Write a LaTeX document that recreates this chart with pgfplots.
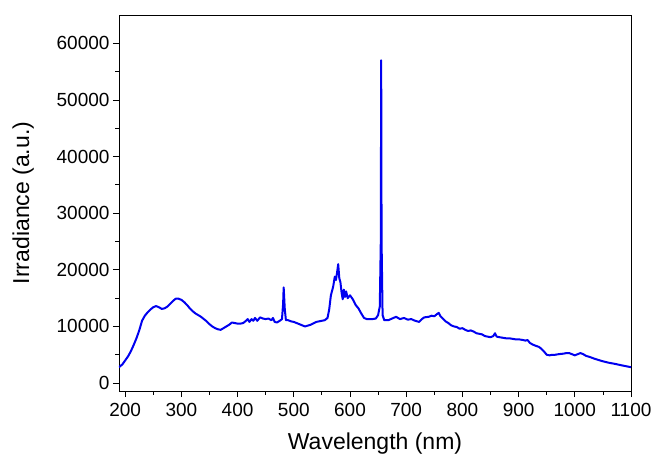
\documentclass[border=0pt]{standalone}
\usepackage{pgfplots}
\pgfplotsset{compat=1.18}
\usepackage{fontspec}
\setmainfont{Liberation Sans}
\begin{document}
\begin{tikzpicture}[x=1pt,y=1pt]
\useasboundingbox (-119,-76) rectangle (550,391);
\begin{axis}[
  at={(0,0)}, anchor=south west,
  scale only axis, width=512pt, height=376pt,
  xmin=189, xmax=1100, ymin=-1400, ymax=65000,
  xtick={200,300,...,1100}, minor xtick={250,350,...,1050},
  ytick={0,10000,...,60000}, minor ytick={5000,15000,...,55000},
  tick align=outside, tick pos=left,
  major tick length=6pt, minor tick length=3.5pt,
  every tick/.style={black, line width=0.8pt},
  axis line style={line width=0.8pt},
  scaled y ticks=false,
  /pgf/number format/assume math mode=true,
  yticklabel style={/pgf/number format/1000 sep={}},
  xticklabel style={/pgf/number format/1000 sep={}, yshift=-3pt},
  tick label style={font=\fontsize{19}{22}\selectfont},
  label style={font=\fontsize{23}{27}\selectfont},
  xlabel style={yshift=-9pt},
  ylabel style={yshift=16pt},
  xlabel={Wavelength (nm)}, ylabel={Irradiance (a.u.)},
]
\addplot[color={rgb,255:red,0;green,0;blue,240}, line width=2pt, line join=round] coordinates {
(189,2800)(195,3300)(200,4000)(205,4700)(210,5600)(215,6700)(220,7900)(225,9300)(230,11000)(235,11900)(240,12500)(245,13000)(250,13400)(255,13600)(260,13400)(265,13100)(270,13200)(275,13500)(280,14000)(285,14500)(290,14900)(295,14900)(300,14700)(305,14300)(310,13800)(315,13200)(320,12700)(325,12300)(330,12000)(335,11700)(340,11300)(345,10900)(350,10400)(355,10000)(360,9700)(365,9500)(370,9400)(375,9700)(380,10000)(385,10300)(390,10700)(395,10600)(400,10500)(405,10500)(410,10600)(415,11000)(418,11300)(421,10800)(425,11300)(428,11000)(431,11500)(435,11000)(440,11600)(445,11400)(450,11300)(455,11400)(460,11100)(463,11500)(466,10800)(470,10700)(475,11000)(479,11300)(481,14000)(482,16900)(484,13000)(486,11100)(490,11100)(495,10900)(500,10800)(510,10400)(520,10000)(530,10300)(540,10800)(550,11000)(555,11100)(560,11500)(563,13000)(566,15500)(570,17000)(573,18800)(575,18200)(577,19500)(579,21000)(581,18500)(583,17800)(585,16000)(587,14800)(589,16500)(591,15200)(593,16200)(596,15000)(600,15500)(605,14800)(610,13800)(615,13200)(620,12300)(625,11500)(630,11300)(640,11300)(646,11400)(650,12000)(653,13500)(654.8,25000)(655.5,57000)(656.2,25000)(658,12000)(661,11100)(668,11100)(675,11400)(682,11700)(689,11300)(696,11500)(703,11200)(709,11300)(716,11000)(723,10800)(728,11300)(732,11600)(740,11700)(745,11900)(750,11800)(755,12200)(758,12400)(761,11800)(765,11400)(770,10900)(775,10600)(780,10200)(785,10000)(790,9900)(795,9600)(800,9700)(805,9400)(810,9200)(815,9300)(820,9100)(825,8800)(830,8700)(835,8600)(840,8300)(845,8200)(850,8100)(855,8300)(858,8800)(861,8200)(866,8100)(872,8000)(878,7900)(884,7900)(890,7800)(896,7700)(902,7700)(908,7600)(912,7500)(916,7600)(920,7100)(925,6800)(930,6600)(936,6400)(940,6100)(945,5600)(950,5000)(955,4900)(960,5000)(965,5000)(971,5100)(980,5200)(985,5300)(990,5300)(995,5100)(1000,4900)(1005,5100)(1010,5300)(1015,5100)(1020,4800)(1027,4600)(1035,4300)(1048,3900)(1060,3600)(1071,3400)(1085,3100)(1100,2800)
};
\end{axis}
\end{tikzpicture}
\end{document}
